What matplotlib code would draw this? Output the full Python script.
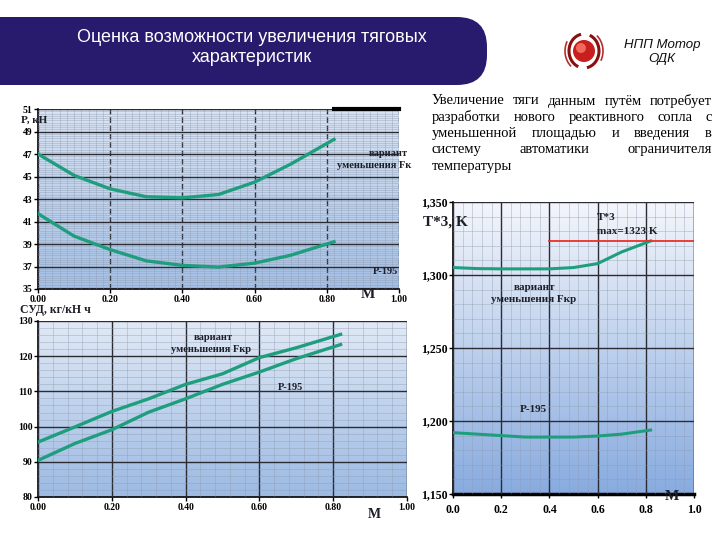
import numpy as np
import matplotlib.pyplot as plt
from matplotlib.colors import LinearSegmentedColormap
from matplotlib.patches import FancyBboxPatch, Rectangle, Circle, Arc

# %% Data
mach = [0.0, 0.1, 0.2, 0.3, 0.4, 0.5, 0.6, 0.7, 0.82]

thrust_var = [47.0, 45.1, 43.9, 43.2, 43.1, 43.4, 44.5, 46.1, 48.3]
thrust_p195 = [41.7, 39.7, 38.5, 37.5, 37.1, 36.95, 37.3, 38.0, 39.2]

sfc_var = [95.6, 99.9, 104.3, 107.9, 112.0, 115.0, 119.6, 122.4, 126.2]
sfc_p195 = [90.4, 95.2, 99.1, 104.1, 107.9, 112.0, 115.5, 119.3, 123.3]

t3_var = [1305.1, 1304.4, 1304.2, 1304.2, 1304.2, 1305.1, 1307.8, 1315.8, 1323.3]
t3_p195 = [1192.0, 1191.0, 1190.0, 1189.0, 1189.0, 1189.0, 1189.7, 1191.0, 1193.8]
t3_max = 1323
t3_max_from = 0.4

title_lines = ["Оценка возможности увеличения тяговых", "характеристик"]
note_lines = ["Увеличение тяги данным путём потребует",
              "разработки нового реактивного сопла с",
              "уменьшенной площадью и  введения в",
              "систему автоматики ограничителя",
              "температуры"]

# %% Style
W, H = 720, 540
green = '#1f9e7e'
serif = 'Liberation Serif'
sans = 'Liberation Sans'

fig = plt.figure(figsize=(W / 100, H / 100), dpi=100)
fig.patch.set_facecolor('white')


def P(x, y):
    return x / W, 1 - y / H


def make_axes(left, top, right, bottom, c_top, c_bot):
    ax = fig.add_axes([left / W, 1 - bottom / H, (right - left) / W, (bottom - top) / H])
    cmap = LinearSegmentedColormap.from_list('bg', [c_bot, c_top])
    grad = np.linspace(0, 1, 256).reshape(-1, 1)
    ax.imshow(grad, cmap=cmap, aspect='auto', extent=[0, 1, 0, 1],
              transform=ax.transAxes, origin='lower', zorder=0)
    ax.set_facecolor('none')
    for s in ['top', 'right']:
        ax.spines[s].set_visible(False)
    ax.spines['left'].set_linewidth(1.2)
    ax.spines['bottom'].set_linewidth(1.2)
    ax.tick_params(which='major', length=3, width=1, pad=1)
    ax.tick_params(which='minor', length=0)
    return ax


def grid(ax, xminor, yminor, xdash=False):
    ax.set_xticks(np.arange(0, 1.0001, xminor), minor=True)
    y0, y1 = ax.get_ylim()
    ax.set_yticks(np.arange(y0, y1 + 1e-6, yminor), minor=True)
    ax.grid(which='minor', color='#8f9bb0', lw=0.5, alpha=0.55, zorder=1)
    ax.grid(which='major', axis='y', color='#2b2b33', lw=1.0, zorder=2)
    ax.grid(which='major', axis='x', color='#2b2b33', lw=1.0, zorder=2,
            ls=(0, (4, 2)) if xdash else '-')
    ax.set_axisbelow(False)


def ticklabels(ax, size):
    for lab in ax.get_xticklabels() + ax.get_yticklabels():
        lab.set_fontfamily(serif)
        lab.set_fontweight('bold')
        lab.set_fontsize(size)


def label(x, y, s, size=7.5, ha='center', **kw):
    fig.text(*P(x, y), s, ha=ha, va='center', fontsize=size, family=serif,
             fontweight='bold', color='#1e1e28', **kw)


# %% Chart 1: thrust
ax1 = make_axes(38, 109, 399, 289, '#dae4f3', '#a4c0e6')
ax1.plot(mach, thrust_var, color=green, lw=2.4, zorder=3)
ax1.plot(mach, thrust_p195, color=green, lw=2.4, zorder=3)
ax1.set_xlim(0, 1)
ax1.set_ylim(35, 51)
ax1.set_yticks(np.arange(35, 52, 2))
ax1.set_xticks(np.arange(0, 1.01, 0.2))
ax1.set_xticklabels([f'{v:.2f}' for v in np.arange(0, 1.01, 0.2)])
grid(ax1, 0.02, 0.2, xdash=True)
ticklabels(ax1, 7)
ax1.plot([0.82, 1.0], [51, 51], color='black', lw=3, clip_on=False, zorder=4)
ax1.axvline(1.0, color='#6a7080', lw=0.8, zorder=2)

# %% Chart 2: specific fuel consumption
ax2 = make_axes(38, 321, 407, 497, '#e1e9f5', '#9cbae3')
ax2.plot(mach, sfc_var, color=green, lw=2.4, zorder=3)
ax2.plot(mach, sfc_p195, color=green, lw=2.4, zorder=3)
ax2.set_xlim(0, 1)
ax2.set_ylim(80, 130)
ax2.set_yticks(np.arange(80, 131, 10))
ax2.set_xticks(np.arange(0, 1.01, 0.2))
ax2.set_xticklabels([f'{v:.2f}' for v in np.arange(0, 1.01, 0.2)])
grid(ax2, 0.04, 2)
ticklabels(ax2, 7)
ax2.axvline(1.0, color='#6a7080', lw=0.8, zorder=2)

# %% Chart 3: turbine inlet temperature
ax3 = make_axes(453, 202, 694, 494, '#f4f6fb', '#88abdf')
ax3.plot(mach, t3_var, color=green, lw=2.2, zorder=3)
ax3.plot(mach, t3_p195, color=green, lw=2.2, zorder=3)
ax3.plot([t3_max_from, 1.0], [t3_max, t3_max], color='#e8302a', lw=1.3, zorder=3)
ax3.set_xlim(0, 1)
ax3.set_ylim(1150, 1350)
ax3.set_yticks(np.arange(1150, 1351, 50))
ax3.set_yticklabels([f'{v:,}' for v in range(1150, 1351, 50)])
ax3.set_xticks(np.arange(0, 1.01, 0.2))
ax3.set_xticklabels([f'{v:.1f}' for v in np.arange(0, 1.01, 0.2)])
grid(ax3, 0.04, 10)
ticklabels(ax3, 8.5)
ax3.spines['bottom'].set_linewidth(2.5)
ax3.axvline(1.0, color='#3a3f4a', lw=1.0, zorder=2)
ax3.tick_params(axis='x', pad=4)

# %% In-chart labels
label(21, 120, 'P, кН', size=8, ha='left')
label(388, 153, 'вариант')
label(374, 166, 'уменьшения Fк')
label(398, 272, 'P-195', ha='right')
label(368, 294, 'M', size=11)

label(20, 310, 'СУД, кг/кН ч', size=8.5, ha='left')
label(213, 337, 'вариант')
label(211, 350, 'уменьшения Fкр')
label(291, 388, 'P-195')
label(374, 515, 'M', size=10)

label(423, 222, 'T*3, K', size=11, ha='left')
label(597, 218, 'T*3', size=8, ha='left')
label(597, 232, 'max=1323 K', size=8, ha='left')
label(535, 287, 'вариант', size=8)
label(534, 300, 'уменьшения Fкр', size=8)
label(533, 410, 'P-195', size=8)
label(672, 497, 'M', size=11)

# %% Header banner
bg = fig.add_axes([0, 0, 1, 1], zorder=-1)
bg.set_xlim(0, W)
bg.set_ylim(H, 0)
bg.axis('off')
bg.add_patch(Rectangle((-10, 17), 460, 68, color='#281b6d', lw=0))
bg.add_patch(FancyBboxPatch((0, 17), 487, 68, boxstyle='round,pad=0,rounding_size=30',
                            color='#281b6d', lw=0))
for i, line in enumerate(title_lines):
    fig.text(*P(252, 37 + 21 * i), line, ha='center', va='center', color='white',
             fontsize=13, family=sans)

# logo
lg = fig.add_axes([0, 0, 1, 1], zorder=5)
lg.set_xlim(0, W)
lg.set_ylim(H, 0)
lg.axis('off')
lg.add_patch(Circle((584, 51), 11, color='#c81e1e', lw=0))
lg.add_patch(Circle((581, 48), 5, color='#ef6a5a', lw=0))
lg.add_patch(Arc((584, 51), 30, 34, theta1=110, theta2=260, color='#8a1010', lw=2.2))
lg.add_patch(Arc((584, 51), 30, 34, theta1=290, theta2=80, color='#8a1010', lw=2.2))
lg.add_patch(Arc((584, 51), 38, 42, theta1=130, theta2=210, color='#b03030', lw=1.2))
lg.add_patch(Arc((584, 51), 38, 42, theta1=310, theta2=30, color='#b03030', lw=1.2))
fig.text(*P(662, 45), 'НПП Мотор', ha='center', va='center', fontsize=9.5,
         family=sans, style='italic', color='#111111')
fig.text(*P(662, 59), 'ОДК', ha='center', va='center', fontsize=9.5,
         family=sans, style='italic', color='#111111')

# %% Justified note text
renderer = fig.canvas.get_renderer()
x_left, x_right = 432, 712
for i, line in enumerate(note_lines):
    y = 101 + 16.3 * i
    words = line.split()
    if i == len(note_lines) - 1:
        fig.text(*P(x_left, y), line, ha='left', va='center', fontsize=10.5, family=serif)
        continue
    arts = [fig.text(*P(x_left, y), w, ha='left', va='center', fontsize=10.5, family=serif)
            for w in words]
    widths = [a.get_window_extent(renderer).width for a in arts]
    gap = (x_right - x_left - sum(widths)) / (len(words) - 1)
    x = x_left
    for a, w in zip(arts, widths):
        a.set_position(P(x, y))
        x += w + gap

fig.savefig('out.png', dpi=100)
